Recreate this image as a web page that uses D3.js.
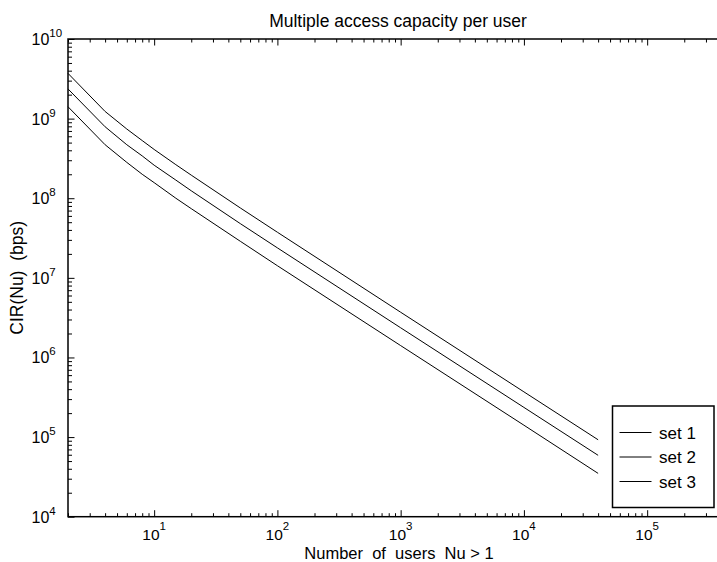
<!DOCTYPE html>
<html>
<head>
<meta charset="utf-8">
<script src="https://cdn.jsdelivr.net/npm/d3@7"></script>
<style>
  body { margin: 0; background: #fff; }
  svg { display: block; font-family: "Liberation Sans", Arial, sans-serif; }
</style>
</head>
<body>
<div id="chart"></div>
<script>
// values
const nUsers = [2, 4, 6, 8, 10, 15, 20, 50, 100, 1000, 10000, 40000];
const set1 = [3.7e9, 1.23e9, 7.4e8, 5.3e8, 4.1e8, 2.64e8, 1.95e8, 7.55e7, 3.74e7, 3.7e6, 3.7e5, 9.25e4];
const set2 = [2.36e9, 7.9e8, 4.7e8, 3.4e8, 2.6e8, 1.69e8, 1.24e8, 4.8e7, 2.38e7, 2.36e6, 2.36e5, 5.9e4];
const set3 = [1.41e9, 4.7e8, 2.82e8, 2.0e8, 1.57e8, 1.0e8, 7.4e7, 2.88e7, 1.42e7, 1.41e6, 1.41e5, 3.5e4];
const seriesNames = ["set 1", "set 2", "set 3"];

const xExponents = [1, 2, 3, 4, 5];
const yExponents = [4, 5, 6, 7, 8, 9, 10];

const chartTitle = "Multiple access capacity per user";
const xTitle = "Number  of  users  Nu > 1";
const yTitle = "CIR(Nu)  (bps)";

const width = 717;
const height = 562;
const plot = { left: 68, top: 39, right: 730, bottom: 516.7 };

const svg = d3
  .select("#chart")
  .append("svg")
  .attr("width", width)
  .attr("height", height)
  .attr("viewBox", `0 0 ${width} ${height}`);

const x = d3.scaleLog().domain([2, 4.7e5]).range([plot.left, plot.right]);
const y = d3.scaleLog().domain([1e4, 1e10]).range([plot.bottom, plot.top]);

const xMajor = xExponents.map((e) => Math.pow(10, e));
const yMajor = yExponents.map((e) => Math.pow(10, e));

// minor ticks 2..9 in each decade inside the domain
function minorTicks(scale) {
  const [a, b] = scale.domain();
  const out = [];
  for (let e = Math.floor(Math.log10(a)); e <= Math.ceil(Math.log10(b)); e++) {
    for (let m = 2; m <= 9; m++) {
      const v = m * Math.pow(10, e);
      if (v >= a && v <= b) out.push(v);
    }
  }
  return out;
}

const axisStyle = (sel) => {
  sel.select(".domain").remove();
  sel.selectAll("line").attr("stroke", "#000").attr("stroke-width", 1);
  sel.selectAll("text").remove();
};

// bottom ticks (pointing in)
svg.append("g")
  .attr("transform", `translate(0,${plot.bottom})`)
  .call(d3.axisBottom(x).tickValues(xMajor).tickSize(-6.5).tickFormat(""))
  .call(axisStyle);
svg.append("g")
  .attr("transform", `translate(0,${plot.bottom})`)
  .call(d3.axisBottom(x).tickValues(minorTicks(x)).tickSize(-3.5).tickFormat(""))
  .call(axisStyle);

// top ticks
svg.append("g")
  .attr("transform", `translate(0,${plot.top})`)
  .call(d3.axisTop(x).tickValues(xMajor).tickSize(-6.5).tickFormat(""))
  .call(axisStyle);
svg.append("g")
  .attr("transform", `translate(0,${plot.top})`)
  .call(d3.axisTop(x).tickValues(minorTicks(x)).tickSize(-3.5).tickFormat(""))
  .call(axisStyle);

// left ticks
svg.append("g")
  .attr("transform", `translate(${plot.left},0)`)
  .call(d3.axisLeft(y).tickValues(yMajor).tickSize(-6.5).tickFormat(""))
  .call(axisStyle);
svg.append("g")
  .attr("transform", `translate(${plot.left},0)`)
  .call(d3.axisLeft(y).tickValues(minorTicks(y)).tickSize(-4).tickFormat(""))
  .call(axisStyle);

// frame
svg.append("rect")
  .attr("x", plot.left)
  .attr("y", plot.top)
  .attr("width", plot.right - plot.left)
  .attr("height", plot.bottom - plot.top)
  .attr("fill", "none")
  .attr("stroke", "#000")
  .attr("stroke-width", 1.5);

// x tick labels
const xLab = svg.append("g").selectAll("text")
  .data(xExponents)
  .join("text")
  .attr("x", (e) => x(Math.pow(10, e)))
  .attr("y", 540)
  .attr("text-anchor", "middle")
  .attr("font-size", 15.5)
  .attr("fill", "#000");
xLab.append("tspan").text("10");
xLab.append("tspan").attr("dy", -10).attr("font-size", 11.5).text((e) => e);

// y tick labels
const yLab = svg.append("g").selectAll("text")
  .data(yExponents)
  .join("text")
  .attr("x", 31.5)
  .attr("y", (e) => y(Math.pow(10, e)) + 6)
  .attr("text-anchor", "start")
  .attr("font-size", 16)
  .attr("fill", "#000");
yLab.append("tspan").text("10");
yLab.append("tspan").attr("dy", -8).attr("font-size", 11.5).text((e) => e);

// lines
const line = d3.line()
  .x((d) => x(d[0]))
  .y((d) => y(d[1]));

[set1, set2, set3].forEach((vals) => {
  svg.append("path")
    .datum(nUsers.map((n, i) => [n, vals[i]]))
    .attr("fill", "none")
    .attr("stroke", "#000")
    .attr("stroke-width", 1)
    .attr("d", line);
});

// titles
svg.append("text")
  .attr("x", (plot.left + plot.right) / 2 - 1)
  .attr("y", 26.5)
  .attr("text-anchor", "middle")
  .attr("font-size", 17.5)
  .text(chartTitle);

svg.append("text")
  .attr("x", (plot.left + plot.right) / 2)
  .attr("y", 559)
  .attr("text-anchor", "middle")
  .attr("font-size", 16.5)
  .style("white-space", "pre")
  .text(xTitle);

svg.append("text")
  .attr("transform", `translate(23,${(plot.top + plot.bottom) / 2}) rotate(-90)`)
  .attr("text-anchor", "middle")
  .attr("font-size", 17.5)
  .style("white-space", "pre")
  .text(yTitle);

// legend
const legend = svg.append("g");
legend.append("rect")
  .attr("x", 612.5)
  .attr("y", 406)
  .attr("width", 101.5)
  .attr("height", 101.5)
  .attr("fill", "#fff")
  .attr("stroke", "#000")
  .attr("stroke-width", 1.5);

const rows = legend.selectAll("g.row")
  .data(seriesNames)
  .join("g")
  .attr("class", "row")
  .attr("transform", (d, i) => `translate(0,${432.5 + i * 24.5})`);
rows.append("line")
  .attr("x1", 619.5)
  .attr("x2", 651.5)
  .attr("stroke", "#000")
  .attr("stroke-width", 1);
rows.append("text")
  .attr("x", 659)
  .attr("y", 6)
  .attr("font-size", 17)
  .text((d) => d);
</script>
</body>
</html>
